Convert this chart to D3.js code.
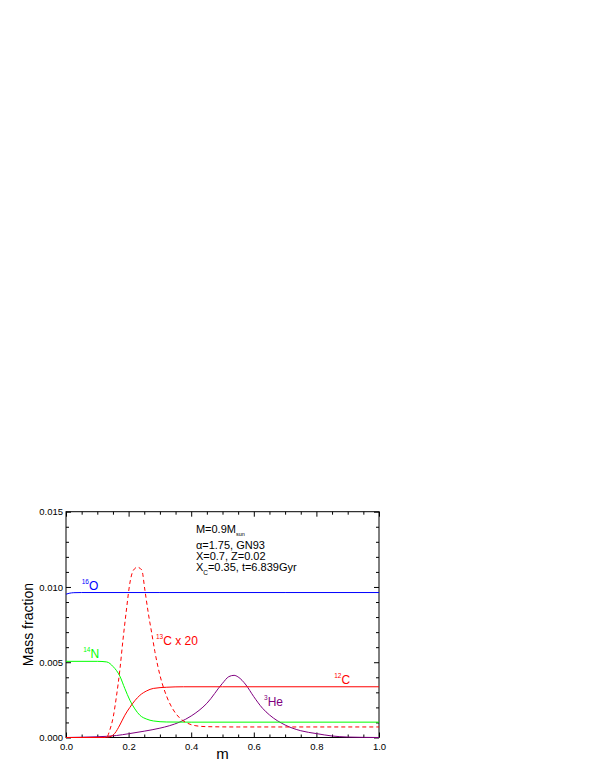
<!DOCTYPE html>
<html>
<head>
<meta charset="utf-8">
<script src="https://cdn.jsdelivr.net/npm/d3@7"></script>
<style>
  body { margin: 0; background: #fff; }
  svg { display: block; font-family: "Liberation Sans", Arial, sans-serif; }
</style>
</head>
<body>
<div class="canvas"></div>
<script>
// profiles: [m, mass fraction]
const o16 = [[0, 0.00952], [0.01, 0.00958], [0.025, 0.00962], [0.05, 0.00963], [0.3, 0.00963], [0.7, 0.00963], [1, 0.00963]];
const n14 = [[0, 0.00506], [0.1, 0.00506], [0.13, 0.00502], [0.151, 0.0047], [0.172, 0.00408], [0.188, 0.00325],
  [0.204, 0.00248], [0.22, 0.0019], [0.236, 0.00148], [0.258, 0.00122], [0.279, 0.0011], [0.322, 0.00103],
  [0.4, 0.00102], [0.7, 0.00102], [1, 0.00102]];
const c12 = [[0, 0], [0.12, 0], [0.14, 0.00005], [0.156, 0.00028], [0.172, 0.00083], [0.188, 0.00148],
  [0.204, 0.002], [0.22, 0.00245], [0.236, 0.0028], [0.258, 0.0031], [0.279, 0.00326], [0.322, 0.00334],
  [0.375, 0.00337], [0.5, 0.00337], [1, 0.00337]];
// 13C already multiplied by 20, as plotted
const c13x20 = [[0, 0], [0.12, 0], [0.13, 0.00002], [0.14, 0.0005], [0.151, 0.00138], [0.161, 0.00271],
  [0.172, 0.00448], [0.182, 0.00648], [0.193, 0.00847], [0.204, 0.01025], [0.215, 0.0111], [0.228, 0.01131],
  [0.242, 0.01113], [0.252, 0.0098], [0.263, 0.00825], [0.274, 0.00692], [0.284, 0.0057], [0.3, 0.00415],
  [0.322, 0.00271], [0.343, 0.00183], [0.364, 0.00128], [0.385, 0.00098], [0.415, 0.00078], [0.45, 0.00072],
  [0.55, 0.0007], [1, 0.0007]];
const he3 = [[0, 0], [0.05, 0.00002], [0.1, 0.00005], [0.161, 0.00013], [0.2, 0.00025], [0.25, 0.00042],
  [0.3, 0.00062], [0.33, 0.00078], [0.364, 0.00103], [0.4, 0.00143], [0.45, 0.00227], [0.5, 0.0036],
  [0.52, 0.00404], [0.537, 0.00413], [0.55, 0.00402], [0.575, 0.00349], [0.6, 0.00271], [0.628, 0.00194],
  [0.65, 0.0015], [0.7, 0.00083], [0.75, 0.00045], [0.8, 0.00026], [0.85, 0.0001], [0.9, 0.00003],
  [0.95, 0.00001], [1, 0]];

const xTicks = [0, 0.2, 0.4, 0.6, 0.8, 1.0];
const yTicks = [0, 0.005, 0.01, 0.015];
const infoLines = ["M=0.9M", "α=1.75, GN93", "X=0.7, Z=0.02", "X=0.35, t=6.839Gyr"];

const dims = { width: 599, height: 776, left: 66, right: 379, top: 511.7, bottom: 737.5 };

const svg = d3
  .select(".canvas")
  .append("svg")
  .attr("width", dims.width)
  .attr("height", dims.height);

const x = d3.scaleLinear().domain([0, 1]).range([dims.left, dims.right]);
const y = d3.scaleLinear().domain([0, 0.015]).range([dims.bottom, dims.top]);

// frame
svg
  .append("rect")
  .attr("x", dims.left)
  .attr("y", dims.top)
  .attr("width", dims.right - dims.left)
  .attr("height", dims.bottom - dims.top)
  .attr("fill", "none")
  .attr("stroke", "#000")
  .attr("stroke-width", 1);

const xMinor = d3.range(0, 1.0001, 0.05).filter((v) => !xTicks.some((t) => Math.abs(t - v) < 1e-6));
const yMinor = d3.range(0, 0.01501, 0.001).filter((v) => !yTicks.some((t) => Math.abs(t - v) < 1e-7));

const styleAxis = (g) => {
  g.select(".domain").remove();
  g.selectAll("line").attr("stroke", "#000");
  g.selectAll("text")
    .attr("font-size", 9.5)
    .attr("font-family", '"Liberation Sans", Arial, sans-serif')
    .attr("fill", "#000");
};

// bottom + top
svg.append("g")
  .attr("transform", `translate(0, ${dims.bottom})`)
  .call(d3.axisBottom(x).tickValues(xTicks).tickFormat(d3.format(".1f")).tickSize(-5).tickSizeOuter(0).tickPadding(6))
  .call(styleAxis);
svg.append("g")
  .attr("transform", `translate(0, ${dims.bottom})`)
  .call(d3.axisBottom(x).tickValues(xMinor).tickFormat("").tickSize(-3).tickSizeOuter(0))
  .call(styleAxis);
svg.append("g")
  .attr("transform", `translate(0, ${dims.top})`)
  .call(d3.axisTop(x).tickValues(xTicks).tickFormat("").tickSize(-5).tickSizeOuter(0))
  .call(styleAxis);
svg.append("g")
  .attr("transform", `translate(0, ${dims.top})`)
  .call(d3.axisTop(x).tickValues(xMinor).tickFormat("").tickSize(-3).tickSizeOuter(0))
  .call(styleAxis);

// left + right
svg.append("g")
  .attr("transform", `translate(${dims.left}, 0)`)
  .call(d3.axisLeft(y).tickValues(yTicks).tickFormat(d3.format(".3f")).tickSize(-5).tickSizeOuter(0).tickPadding(3))
  .call(styleAxis);
svg.append("g")
  .attr("transform", `translate(${dims.left}, 0)`)
  .call(d3.axisLeft(y).tickValues(yMinor).tickFormat("").tickSize(-3).tickSizeOuter(0))
  .call(styleAxis);
svg.append("g")
  .attr("transform", `translate(${dims.right}, 0)`)
  .call(d3.axisRight(y).tickValues(yTicks).tickFormat("").tickSize(-5).tickSizeOuter(0))
  .call(styleAxis);
svg.append("g")
  .attr("transform", `translate(${dims.right}, 0)`)
  .call(d3.axisRight(y).tickValues(yMinor).tickFormat("").tickSize(-3).tickSizeOuter(0))
  .call(styleAxis);

// axis titles
svg.append("text")
  .attr("x", (dims.left + dims.right) / 2)
  .attr("y", 759)
  .attr("text-anchor", "middle")
  .attr("font-size", 15)
  .text("m");

svg.append("text")
  .attr("transform", `translate(32.5, ${(dims.top + dims.bottom) / 2}) rotate(-90)`)
  .attr("text-anchor", "middle")
  .attr("font-size", 14)
  .text("Mass fraction");

// curves
const line = d3
  .line()
  .x((d) => x(d[0]))
  .y((d) => y(d[1]))
  .curve(d3.curveMonotoneX);

const series = [
  { data: he3, color: "#800080", dash: null },
  { data: n14, color: "#00ff00", dash: null },
  { data: o16, color: "#0000ff", dash: null },
  { data: c12, color: "#ff0000", dash: null },
  { data: c13x20, color: "#ff0000", dash: "4,3" },
];

svg.append("g")
  .selectAll("path")
  .data(series)
  .enter()
  .append("path")
  .attr("d", (d) => line(d.data))
  .attr("fill", "none")
  .attr("stroke", (d) => d.color)
  .attr("stroke-width", 1)
  .attr("stroke-dasharray", (d) => d.dash);

// isotope labels: superscript mass number + element
const labels = [
  { sup: "16", main: "O", m: 0.05, v: 0.0098, color: "#0000ff" },
  { sup: "14", main: "N", m: 0.055, v: 0.0053, color: "#00ff00" },
  { sup: "13", main: "C x 20", m: 0.2875, v: 0.00615, color: "#ff0000" },
  { sup: "3", main: "He", m: 0.6326, v: 0.0021, color: "#800080" },
  { sup: "12", main: "C", m: 0.857, v: 0.00355, color: "#ff0000" },
];

const lab = svg.append("g")
  .selectAll("text")
  .data(labels)
  .enter()
  .append("text")
  .attr("x", (d) => x(d.m))
  .attr("y", (d) => y(d.v))
  .attr("fill", (d) => d.color)
  .attr("font-size", 12);
lab.append("tspan").attr("font-size", 6.5).attr("dy", -6).text((d) => d.sup);
lab.append("tspan").attr("dy", 6).text((d) => d.main);

// model info box
const info = svg.append("g").attr("font-size", 11).attr("fill", "#000");
const infoY = [0.01359, 0.01252, 0.01179, 0.01104];
const tx = x(0.415);

const t0 = info.append("text").attr("x", tx).attr("y", y(infoY[0]));
t0.append("tspan").text(infoLines[0]);
t0.append("tspan").attr("font-size", 5.5).attr("dy", 3.5).text("sun");

info.append("text").attr("x", tx).attr("y", y(infoY[1])).text(infoLines[1]);
info.append("text").attr("x", tx).attr("y", y(infoY[2])).text(infoLines[2]);

const t3 = info.append("text").attr("x", tx).attr("y", y(infoY[3]));
t3.append("tspan").text("X");
t3.append("tspan").attr("font-size", 6.5).attr("dy", 3.5).text("C");
t3.append("tspan").attr("dy", -3.5).text(infoLines[3].slice(1));
</script>
</body>
</html>
